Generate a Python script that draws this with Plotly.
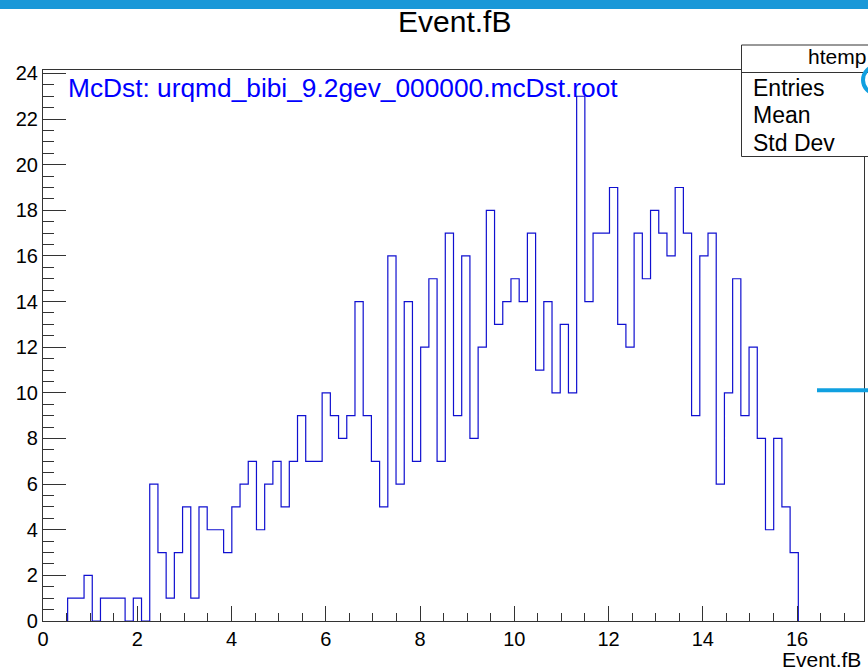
import numpy as np
import plotly.graph_objects as go

# ---- data (ROOT htemp: 100 bins over [0, 17.42]) ----
x_min = 0.0
x_max = 17.42
n_bins = 100
counts = [
    0, 0, 0, 1, 1, 2, 0, 1, 1, 1,
    0, 1, 0, 6, 3, 1, 3, 5, 1, 5,
    4, 4, 3, 5, 6, 7, 4, 6, 7, 5,
    7, 9, 7, 7, 10, 9, 8, 9, 14, 9,
    7, 5, 16, 6, 14, 7, 12, 15, 7, 17,
    9, 16, 8, 12, 18, 13, 14, 15, 14, 17,
    11, 14, 10, 13, 10, 23, 14, 17, 17, 19,
    13, 12, 17, 15, 18, 17, 16, 19, 17, 9,
    16, 17, 6, 10, 15, 9, 12, 8, 4, 8,
    5, 3, 0, 0, 0, 0, 0, 0, 0, 0,
]
x_ticks = [0, 2, 4, 6, 8, 10, 12, 14, 16]
y_ticks = [0, 2, 4, 6, 8, 10, 12, 14, 16, 18, 20, 22, 24]
stat_labels = ["Entries", "Mean", "Std Dev"]
hist_name = "htemp"
title_text = "Event.fB"
file_label = "McDst: urqmd_bibi_9.2gev_000000.mcDst.root"

edges = np.linspace(x_min, x_max, n_bins + 1)
nz = [i for i, c in enumerate(counts) if c > 0]
i0, i1 = nz[0], nz[-1] + 1
x_step = [edges[i0]] + list(edges[i0:i1 + 1])
y_step = [0] + list(counts[i0:i1]) + [0]

W, H = 868, 671
ML, MR, MT, MB = 43, 4, 70, 50
PW = W - ML - MR
PH = H - MT - MB


def px(xp):
    return (xp - ML) / PW


def py(yp):
    return (H - MB - yp) / PH


FONT = "Liberation Sans, Arial, Helvetica, sans-serif"
AX = "#333333"

fig = go.Figure()
fig.add_trace(go.Scatter(
    x=x_step, y=y_step, mode="lines", line=dict(shape="hv", color="#1010d0", width=1.2),
    hoverinfo="skip", showlegend=False,
))

fig.update_layout(
    width=W, height=H,
    margin=dict(l=ML, r=MR, t=MT, b=MB, pad=0),
    paper_bgcolor="white", plot_bgcolor="white",
    font=dict(family=FONT, color="black"),
    showlegend=False,
    xaxis=dict(
        range=[x_min, x_max], showgrid=False, zeroline=False,
        showline=True, linecolor=AX, linewidth=1.2, mirror=True,
        ticks="inside", ticklen=15, tickcolor=AX, tickwidth=1,
        tickvals=x_ticks, tickfont=dict(size=20, family=FONT, color="black"),
        minor=dict(ticks="inside", ticklen=8, dtick=0.5, tickcolor=AX, showgrid=False),
    ),
    yaxis=dict(
        range=[0, 24.15], showgrid=False, zeroline=False,
        showline=True, linecolor=AX, linewidth=1.2, mirror=True,
        ticks="inside", ticklen=23, tickcolor=AX, tickwidth=1,
        tickvals=y_ticks, tickfont=dict(size=20, family=FONT, color="black"),
        minor=dict(ticks="inside", ticklen=11, dtick=0.5, tickcolor=AX, showgrid=False),
    ),
)

shapes = []
# top blue band (window chrome)
shapes.append(dict(type="rect", xref="paper", yref="paper",
                   x0=px(0), x1=px(W + 5), y0=py(9), y1=py(-2),
                   fillcolor="#1a98d8", line=dict(width=0), layer="above"))
# stats box
shapes.append(dict(type="rect", xref="paper", yref="paper",
                   x0=px(741.5), x1=px(W + 60), y0=py(156.5), y1=py(45),
                   fillcolor="white", line=dict(color="#333333", width=1), layer="above"))
shapes.append(dict(type="line", xref="paper", yref="paper",
                   x0=px(741.5), x1=px(W + 60), y0=py(72.5), y1=py(72.5),
                   line=dict(color="#333333", width=1), layer="above"))
# overlay artifacts
shapes.append(dict(type="circle", xref="paper", yref="paper",
                   x0=px(863), x1=px(891), y0=py(94), y1=py(66),
                   line=dict(color="#10a0e0", width=4), layer="above"))
shapes.append(dict(type="line", xref="paper", yref="paper",
                   x0=px(817), x1=px(W + 2), y0=py(390.3), y1=py(390.3),
                   line=dict(color="#10a0e0", width=4), layer="above"))
fig.update_layout(shapes=shapes)

ann = []
ann.append(dict(text=title_text, xref="paper", yref="paper", x=px(454), y=py(22),
                xanchor="center", yanchor="middle", showarrow=False,
                font=dict(size=30, family=FONT, color="black")))
ann.append(dict(text=file_label, xref="paper", yref="paper", x=px(66), y=py(88),
                xanchor="left", yanchor="middle", showarrow=False,
                font=dict(size=26.3, family=FONT, color="#0000ff")))
ann.append(dict(text=title_text, xref="paper", yref="paper", x=px(863), y=py(659),
                xanchor="right", yanchor="middle", showarrow=False,
                font=dict(size=21, family=FONT, color="black")))
ann.append(dict(text=hist_name, xref="paper", yref="paper", x=px(806), y=py(57),
                xanchor="left", yanchor="middle", showarrow=False,
                font=dict(size=21, family=FONT, color="black")))
for lab, yy in zip(stat_labels, [88, 115, 143]):
    ann.append(dict(text=lab, xref="paper", yref="paper", x=px(751), y=py(yy),
                    xanchor="left", yanchor="middle", showarrow=False,
                    font=dict(size=23, family=FONT, color="black")))
fig.update_layout(annotations=ann)

fig.write_html("out.html")
